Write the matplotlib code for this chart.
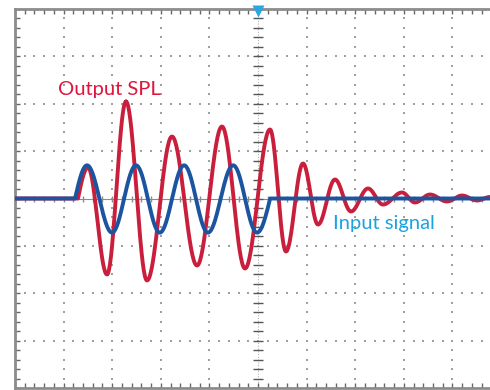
import numpy as np
import matplotlib.pyplot as plt

# turning points, in divisions (x: 0..10, y: -4..4)
input_t = [0.0, 1.235, 1.481, 1.996, 2.49, 2.98, 3.48, 3.97, 4.49, 4.98, 5.25, 10.3]
input_v = [0, 0, 0.70, -0.72, 0.70, -0.72, 0.70, -0.72, 0.70, -0.72, 0, 0]

spl_t = [0.0, 1.296, 1.502, 1.893, 2.284, 2.716, 3.230, 3.745, 4.259, 4.733,
         5.247, 5.576, 5.926, 6.235, 6.584, 6.914, 7.263, 7.572, 7.963, 8.230,
         8.539, 8.889, 9.198, 9.506, 9.774, 10.06]
spl_v = [0, 0, 0.654, -1.603, 2.046, -1.730, 1.308, -1.414, 1.519, -1.477,
         1.456, -1.118, 0.738, -0.549, 0.401, -0.274, 0.211, -0.127, 0.127, -0.084,
         0.084, -0.063, 0.063, -0.042, 0.032, -0.02]


def smooth(t, v, n=40):
    # join turning points with sine-shaped pieces, like a scope trace
    xs, ys = [], []
    s = np.linspace(0, 1, n)
    for i in range(len(t) - 1):
        a, b = v[i], v[i + 1]
        if a == 0 and b == 0:
            y = np.zeros(n)
        elif a == 0:
            y = b * np.sin(np.pi / 2 * s)
        elif b == 0:
            y = a * np.cos(np.pi / 2 * s)
        else:
            y = a + (b - a) * (1 - np.cos(np.pi * s)) / 2
        xs.append(t[i] + (t[i + 1] - t[i]) * s)
        ys.append(y)
    return np.concatenate(xs), np.concatenate(ys)


fig = plt.figure(figsize=(4.9, 3.9), dpi=100)
ax = fig.add_axes([15 / 490, 2 / 390, 486 / 490, 379 / 390])
ax.set_xlim(0, 10)
ax.set_ylim(-4, 4)

grey = '#8c8c8c'
minor_x = np.arange(0, 10.001, 0.2)
minor_y = np.arange(-4, 4.001, 0.2)

# dotted graticule
for gx in [1, 2, 3, 4, 6, 7, 8, 9]:
    ax.scatter(np.full(len(minor_y), gx), minor_y, s=1.3, marker='s', color='#a0a0a0', linewidths=0, zorder=1)
for gy in [-3, -2, -1, 1, 2, 3]:
    ax.scatter(minor_x, np.full(len(minor_x), gy), s=1.3, marker='s', color='#a0a0a0', linewidths=0, zorder=1)

# centre crosshair with ticks
ax.axhline(0, color=grey, lw=0.8, zorder=1)
ax.plot(minor_x, np.zeros(len(minor_x)), ls='none', marker='|', ms=5, mew=1, color=grey, zorder=1)
ax.axvline(5, color='#b0b0b0', lw=0.8, ls=(0, (1, 1.5)), zorder=1)
ax.plot(np.full(len(minor_y), 5), minor_y, ls='none', marker='_', ms=7, mew=1, color='#555555', zorder=1)

spl_x, spl_y = smooth(spl_t, spl_v)
in_x, in_y = smooth(input_t, input_v)
ax.plot(spl_x, spl_y, color='#c91f3d', lw=2.8, solid_capstyle='round', zorder=3)
ax.plot(in_x, in_y, color='#1b55a0', lw=2.8, solid_capstyle='round', zorder=4)

# trigger marker
ax.plot([5], [3.96], marker='v', ms=8, color='#2aa7e1', mec='none', clip_on=False, zorder=5)

ax.text(0.885, 2.194, 'Output SPL', color='#e0143c', fontsize=14.5, family='Lato', va='baseline')
ax.text(6.543, -0.654, 'Input signal', color='#1ba3e0', fontsize=14.5, family='Lato', va='baseline')

for side in ['top', 'left', 'bottom']:
    ax.spines[side].set_color(grey)
    ax.spines[side].set_linewidth(2)
ax.spines['right'].set_visible(False)
ax.set_xticks(minor_x)
ax.set_yticks(minor_y)
ax.tick_params(direction='in', length=3.5, width=1, color='#666666',
               top=True, bottom=True, left=True, right=False,
               labelbottom=False, labelleft=False)

fig.savefig('out.png', dpi=100)
